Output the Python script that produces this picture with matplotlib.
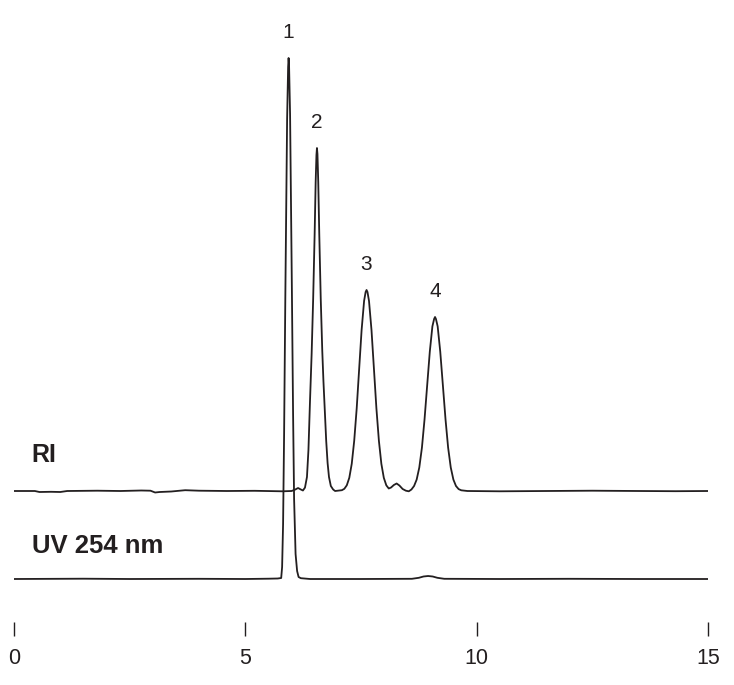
import numpy as np
import matplotlib.pyplot as plt

# RI trace (time in min, detector signal in arbitrary units)
ri_time = [0.0, 0.45, 0.55, 0.8, 1.0, 1.15, 1.8, 2.3, 2.75, 2.95,
           3.05, 3.15, 3.4, 3.7, 4.0, 4.6, 5.2, 5.8, 6.0, 6.08,
           6.14, 6.20, 6.245, 6.289, 6.332, 6.364, 6.397, 6.433, 6.466, 6.498,
           6.520, 6.537, 6.548, 6.559, 6.576, 6.598, 6.630, 6.663, 6.688, 6.718,
           6.748, 6.778, 6.808, 6.848, 6.898, 6.940, 7.087, 7.140, 7.193, 7.247,
           7.300, 7.353, 7.407, 7.460, 7.513, 7.567, 7.600, 7.620, 7.640, 7.673,
           7.727, 7.780, 7.833, 7.887, 7.940, 7.993, 8.047, 8.100, 8.150, 8.210,
           8.270, 8.330, 8.400, 8.470, 8.533, 8.590, 8.647, 8.703, 8.760, 8.817,
           8.873, 8.930, 8.987, 9.043, 9.080, 9.100, 9.120, 9.157, 9.213, 9.270,
           9.327, 9.383, 9.440, 9.497, 9.553, 9.610, 9.667, 9.8, 10.5, 11.5,
           12.5, 13.5, 14.3, 15.0]
ri_signal = [0, 0, -1, -0.8, -1, 0, 0.3, 0, 0.5, 0.3,
             -1.5, -1, -0.5, 0.8, 0.3, 0, 0.2, -0.3, 0, 1.5,
             3, 1.5, 0.5, 3.4, 14, 41, 89, 137, 192, 257,
             309, 336, 343, 337, 309, 257, 192, 140, 110, 80,
             50, 28, 14, 5, 1.5, 0, 0.8, 2.2, 5.7, 13.2,
             27.2, 50.1, 82.6, 121.9, 160.9, 190.1, 199, 201, 199, 190.1,
             160.9, 121.9, 82.6, 50.1, 27.2, 13.2, 5.7, 2.5, 3.5, 6,
             7.5, 5.5, 2, 0.3, -0.3, 1.5, 5.0, 11.4, 23.5, 43.4,
             71.5, 105.5, 139.3, 164.6, 172, 174, 172, 164.6, 139.3, 105.5,
             71.5, 43.4, 23.5, 11.4, 5.0, 1.9, 0.7, 0, -0.3, 0,
             0.3, 0, -0.2, 0]

# UV 254 nm trace
uv_time = [0.0, 1.5, 2.5, 4.0, 5.0, 5.5, 5.7, 5.775, 5.795, 5.816,
           5.838, 5.864, 5.903, 5.925, 5.935, 5.945, 5.967, 6.006, 6.032, 6.054,
           6.086, 6.119, 6.151, 6.20, 6.4, 7.5, 8.6, 8.75, 8.85, 8.95,
           9.05, 9.15, 9.3, 10.5, 12.0, 13.5, 15.0]
uv_signal = [0, 0.3, 0, 0.2, 0, 0.3, 0.5, 1, 12, 55,
             145, 280, 460, 512, 521, 514, 465, 290, 165, 80,
             25, 8, 2, 0.8, 0, 0, 0.2, 1.2, 2.5, 3,
             2.5, 1.2, 0.2, 0, 0.2, 0, 0]

peak_labels = ["1", "2", "3", "4"]
peak_times = [5.935, 6.548, 7.62, 9.10]
peak_trace = ["uv", "ri", "ri", "ri"]

x_ticks = [0, 5, 10, 15]

ri_offset = 88
ink = "#231f20"
font = "Liberation Sans"

fig = plt.figure(figsize=(7.34, 6.85), dpi=100)
ax = fig.add_axes([14 / 734, 1 - 636 / 685, 694 / 734, 616 / 685])

ri = np.array(ri_signal) + ri_offset
uv = np.array(uv_signal)
ax.plot(ri_time, ri, color=ink, lw=1.3, solid_joinstyle="round")
ax.plot(uv_time, uv, color=ink, lw=1.3, solid_joinstyle="round")

for lab, t, tr in zip(peak_labels, peak_times, peak_trace):
    if tr == "uv":
        h = np.interp(t, uv_time, uv)
    else:
        h = np.interp(t, ri_time, ri)
    ax.text(t, h + 20, lab, ha="center", va="baseline", fontsize=15,
            family=font, color=ink)

ax.text(0.38, ri_offset + 29, "RI", ha="left", va="baseline", fontsize=18,
        family=font, fontweight="bold", color=ink)
ax.text(0.38, 26, "UV 254 nm", ha="left", va="baseline", fontsize=18.5,
        family=font, fontweight="bold", color=ink)

ax.set_xlim(0, 15)
ax.set_ylim(-57, 559)
ax.set_xticks(x_ticks)
ax.set_xticklabels([str(v) for v in x_ticks], fontsize=15.5, family=font, color=ink)
ax.tick_params(axis="x", direction="in", length=10, width=1, color=ink, pad=8.5)
ax.set_yticks([])
for s in ax.spines.values():
    s.set_visible(False)
ax.patch.set_alpha(0)

fig.savefig("out.png", dpi=100)
